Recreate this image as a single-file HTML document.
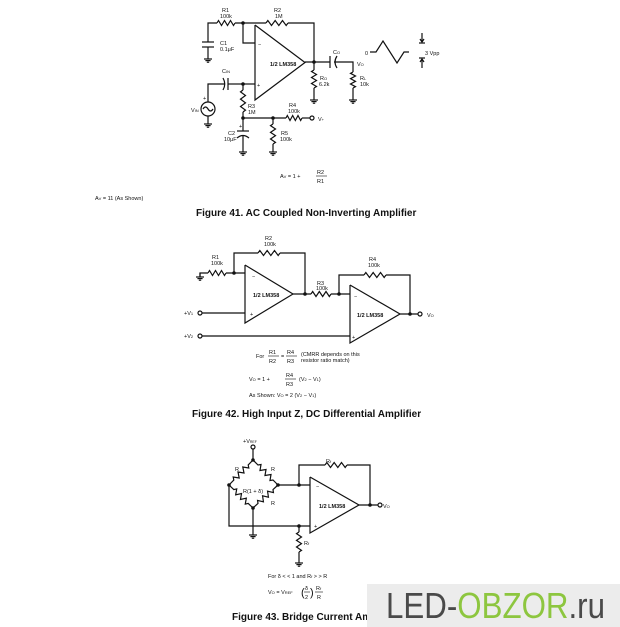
<!DOCTYPE html>
<html><head><meta charset="utf-8"><style>
html,body{margin:0;padding:0;background:#fff}
svg{display:block}
text{font-family:"Liberation Sans",sans-serif;fill:#111}
.s{font-size:5.5px}
.m{font-size:7px}
.cap{font-size:10px;font-weight:bold}
</style></head><body>
<svg id="sv" width="620" height="627" viewBox="0 0 620 627" xmlns="http://www.w3.org/2000/svg">
<g id="w" stroke="#111" stroke-width="1.2" fill="none"></g>
<g id="d" fill="#111"></g>
<!-- Fig 41 labels -->
<text class="s" x="222" y="12">R1</text><text class="s" x="220" y="18">100k</text>
<text class="s" x="274" y="12">R2</text><text class="s" x="275" y="18">1M</text>
<text class="s" x="220" y="45">C1</text><text class="s" x="220" y="51">0.1μF</text>
<text class="s" x="270" y="66" font-weight="bold">1/2 LM358</text>
<text class="s" x="258" y="46">−</text><text class="s" x="257" y="87">+</text>
<text class="s" x="222" y="73">C<tspan font-size="4">IN</tspan></text>
<text class="s" x="333" y="54">C<tspan font-size="4">O</tspan></text>
<text class="s" x="357" y="66">V<tspan font-size="4">O</tspan></text>
<text class="s" x="320" y="80">R<tspan font-size="4">O</tspan></text><text class="s" x="319" y="86">6.2k</text>
<text class="s" x="360" y="80">R<tspan font-size="4">L</tspan></text><text class="s" x="360" y="86">10k</text>
<text class="s" x="365" y="55">0</text>
<text class="s" x="425" y="55">3 Vpp</text>
<text class="s" x="191" y="112">V<tspan font-size="4">IN</tspan></text>
<text class="s" x="203" y="100">+</text>
<text class="s" x="248" y="108">R3</text><text class="s" x="248" y="114">1M</text>
<text class="s" x="289" y="107">R4</text><text class="s" x="288" y="113">100k</text>
<text class="s" x="318" y="121">V<tspan font-size="4">+</tspan></text>
<text class="s" x="228" y="135">C2</text><text class="s" x="224" y="141">10μF</text>
<text class="s" x="239" y="128">+</text>
<text class="s" x="281" y="135">R5</text><text class="s" x="280" y="141">100k</text>
<text class="s" x="280" y="178">A<tspan font-size="4">V</tspan> = 1 +</text>
<text class="s" x="317" y="174">R2</text><line x1="316" y1="176" x2="327" y2="176" stroke="#111" stroke-width="0.6"/><text class="s" x="317" y="183">R1</text>
<text class="s" x="95" y="200">A<tspan font-size="4">V</tspan> = 11 (As Shown)</text>
<text class="cap" x="196" y="216">Figure 41.  AC Coupled Non-Inverting Amplifier</text>
<!-- Fig 42 labels -->
<text class="s" x="265" y="240">R2</text><text class="s" x="264" y="246">100k</text>
<text class="s" x="212" y="259">R1</text><text class="s" x="211" y="265">100k</text>
<text class="s" x="252" y="278">−</text><text class="s" x="250" y="316">+</text>
<text class="s" x="253" y="297" font-weight="bold">1/2 LM358</text>
<text class="s" x="317" y="285">R3</text><text class="s" x="316" y="290">100k</text>
<text class="s" x="369" y="261">R4</text><text class="s" x="368" y="267">100k</text>
<text class="s" x="354" y="298">−</text><text class="s" x="352" y="339">+</text>
<text class="s" x="357" y="317" font-weight="bold">1/2 LM358</text>
<text class="s" x="427" y="317">V<tspan font-size="4">O</tspan></text>
<text class="s" x="184" y="315">+V<tspan font-size="4">1</tspan></text>
<text class="s" x="184" y="338">+V<tspan font-size="4">2</tspan></text>
<text class="s" x="256" y="358">For</text>
<text class="s" x="269" y="354">R1</text><line x1="268" y1="356" x2="279" y2="356" stroke="#111" stroke-width="0.6"/><text class="s" x="269" y="363">R2</text>
<text class="s" x="281" y="358">=</text>
<text class="s" x="287" y="354">R4</text><line x1="286" y1="356" x2="297" y2="356" stroke="#111" stroke-width="0.6"/><text class="s" x="287" y="363">R3</text>
<text class="s" x="301" y="356">(CMRR depends on this</text><text class="s" x="301" y="362">resistor ratio match)</text>
<text class="s" x="249" y="381">V<tspan font-size="4">O</tspan> = 1 +</text>
<text class="s" x="286" y="377">R4</text><line x1="285" y1="379" x2="296" y2="379" stroke="#111" stroke-width="0.6"/><text class="s" x="286" y="386">R3</text>
<text class="s" x="299" y="381">(V<tspan font-size="4">2</tspan> − V<tspan font-size="4">1</tspan>)</text>
<text class="s" x="249" y="397">As Shown: V<tspan font-size="4">O</tspan> = 2 (V<tspan font-size="4">2</tspan> − V<tspan font-size="4">1</tspan>)</text>
<text class="cap" x="192" y="417">Figure 42.  High Input Z, DC Differential Amplifier</text>
<!-- Fig 43 labels -->
<text class="s" x="243" y="443" font-size="4.5">+V<tspan font-size="3.5">REF</tspan></text>
<text class="s" x="235" y="471">R</text><text class="s" x="271" y="471">R</text>
<text class="s" x="243" y="493" font-size="5">R(1 + δ)</text>
<text class="s" x="271" y="505">R</text>
<text class="s" x="326" y="463">R<tspan font-size="4">f</tspan></text>
<text class="s" x="316" y="488">−</text><text class="s" x="314" y="528">+</text>
<text class="s" x="319" y="508" font-weight="bold">1/2 LM358</text>
<text class="s" x="383" y="508">V<tspan font-size="4">O</tspan></text>
<text class="s" x="304" y="545">R<tspan font-size="4">f</tspan></text>
<text class="s" x="268" y="578">For δ &lt; &lt; 1 and R<tspan font-size="4">f</tspan> &gt; &gt; R</text>
<text class="s" x="268" y="594">V<tspan font-size="4">O</tspan> = V<tspan font-size="4">REF</tspan></text>
<text x="301" y="596" font-size="11">(</text><text class="s" x="305" y="590">δ</text><line x1="304" y1="592" x2="310" y2="592" stroke="#111" stroke-width="0.6"/><text class="s" x="305" y="599">2</text><text x="310" y="596" font-size="11">)</text>
<text class="s" x="316" y="590">R<tspan font-size="4">f</tspan></text><line x1="315" y1="592" x2="323" y2="592" stroke="#111" stroke-width="0.6"/><text class="s" x="317" y="599">R</text>
<text class="cap" x="232" y="620">Figure 43.  Bridge Current Am</text>
<!-- watermark -->
<rect x="367" y="584" width="253" height="43" fill="#ececec"/>
<text x="386" y="618" font-size="36" style="font-family:'Liberation Sans Narrow','Liberation Sans',sans-serif" textLength="219" lengthAdjust="spacingAndGlyphs"><tspan fill="#4a4a4a">LED-</tspan><tspan fill="#8dc63f">OBZOR</tspan><tspan fill="#4a4a4a">.ru</tspan></text>
</svg>
<script>
var W=document.getElementById('w'),D=document.getElementById('d'),NS='http://www.w3.org/2000/svg';
function el(p,t,a){var e=document.createElementNS(NS,t);for(var k in a)e.setAttribute(k,a[k]);p.appendChild(e);return e;}
function L(pts){el(W,'polyline',{points:pts});}
function RH(x1,x2,y){var p=[x1+','+y],n=6,s=(x2-x1)/n;for(var i=0;i<n;i++){p.push((x1+s*(i+0.5))+','+(y+(i%2?2.5:-2.5)));}p.push(x2+','+y);L(p.join(' '));}
function RV(x,y1,y2){var p=[x+','+y1],n=6,s=(y2-y1)/n;for(var i=0;i<n;i++){p.push((x+(i%2?2.5:-2.5))+','+(y1+s*(i+0.5)));}p.push(x+','+y2);L(p.join(' '));}
function RD(x1,y1,x2,y2){var dx=x2-x1,dy=y2-y1,l=Math.hypot(dx,dy),ux=dx/l,uy=dy/l,px=-uy,py=ux,p=[x1+','+y1],n=6;var a=0.2,b=0.8;p.push((x1+dx*a)+','+(y1+dy*a));for(var i=0;i<n;i++){var t=a+(b-a)*(i+0.5)/n,s=i%2?2.5:-2.5;p.push((x1+dx*t+px*s)+','+(y1+dy*t+py*s));}p.push((x1+dx*b)+','+(y1+dy*b));p.push(x2+','+y2);L(p.join(' '));}
function N(x,y){el(D,'circle',{cx:x,cy:y,r:1.8});}
function O(x,y){el(W,'circle',{cx:x,cy:y,r:2,fill:'#fff'});}
function G(x,y){L(x+','+(y-4)+' '+x+','+y);L((x-4)+','+y+' '+(x+4)+','+y);L((x-2.6)+','+(y+1.6)+' '+(x+2.6)+','+(y+1.6));L((x-1.2)+','+(y+3.2)+' '+(x+1.2)+','+(y+3.2));}
function T(x,y1,y2,ax){L(x+','+y1+' '+x+','+y2+' '+ax+','+((y1+y2)/2)+' '+x+','+y1);}
// Fig41
L('208,42 208,23 217,23');RH(217,235,23);L('235,23 266,23');RH(266,288,23);L('288,23 314,23 314,62');
L('243,23 243,43 255,43');N(243,23);
L('202,42 214,42');L('202,47 214,47');L('208,47 208,55');G(208,59);
T(255,25,100,305);L('305,62 330,62');N(314,62);
L('330,56 330,68');el(W,'path',{d:'M337,56 Q333,62 337,68'});L('334,62 353,62 353,72');RV(353,72,88);L('353,88 353,96');G(353,100);
RV(314,70,88);L('314,62 314,70');L('314,88 314,96');G(314,100);
L('370,52 376,52 383,41 397,63 404,52 409,52');
L('422,33 422,42');L('420,39 422,42 424,39');L('419,43 425,43');L('419,58 425,58');L('422,59 422,68');L('420,62 422,59 424,62');
L('243,84 255,84');N(243,84);L('243,84 228,84');L('228,78 228,90');el(W,'path',{d:'M223,78 Q226.5,84 223,90'});L('225,84 208,84 208,102');
el(W,'circle',{cx:208,cy:109,r:7});el(W,'path',{d:'M203,109 Q205.5,105 208,109 Q210.5,113 213,109'});L('208,116 208,120');G(208,124);
RV(243,90,112);L('243,84 243,90');L('243,112 243,118 286,118');N(243,118);N(273,118);RH(286,302,118);L('302,118 310,118');O(312,118);
L('243,118 243,131');L('237,131 249,131');el(W,'path',{d:'M237,138 Q243,133 249,138'});L('243,136 243,148');G(243,152);
RV(273,124,144);L('273,118 273,124');L('273,144 273,148');G(273,152);
// Fig42
L('200,277 200,273 208,273');G(200,277);RH(208,226,273);L('226,273 245,273');N(234,273);
L('234,273 234,253 258,253');RH(258,280,253);L('280,253 305,253 305,294');
T(245,265,323,293);L('293,294 311,294');N(305,294);RH(311,331,294);L('331,294 350,294');N(339,294);
L('339,294 339,275 364,275');RH(364,386,275);L('386,275 410,275 410,314');
T(350,285,343,400);L('400,314 418,314');N(410,314);O(420,314);
L('202,313 245,313');O(200,313);L('202,336 350,336');O(200,336);
// Fig43
O(253,447);L('253,449 253,460');N(253,460);N(229,485);N(278,485);N(253,508);
RD(253,460,229,485);RD(253,460,278,485);RD(229,485,253,508);RD(278,485,253,508);
L('278,485 310,485');N(299,485);L('299,485 299,465 325,465');RH(325,347,465);L('347,465 370,465 370,505');
T(310,477,533,359);L('359,505 378,505');N(370,505);O(380,505);
L('229,485 229,526 310,526');N(299,526);L('253,508 253,531');G(253,535);
RV(299,532,552);L('299,526 299,532');L('299,552 299,559');G(299,563);
</script>
</body></html>
